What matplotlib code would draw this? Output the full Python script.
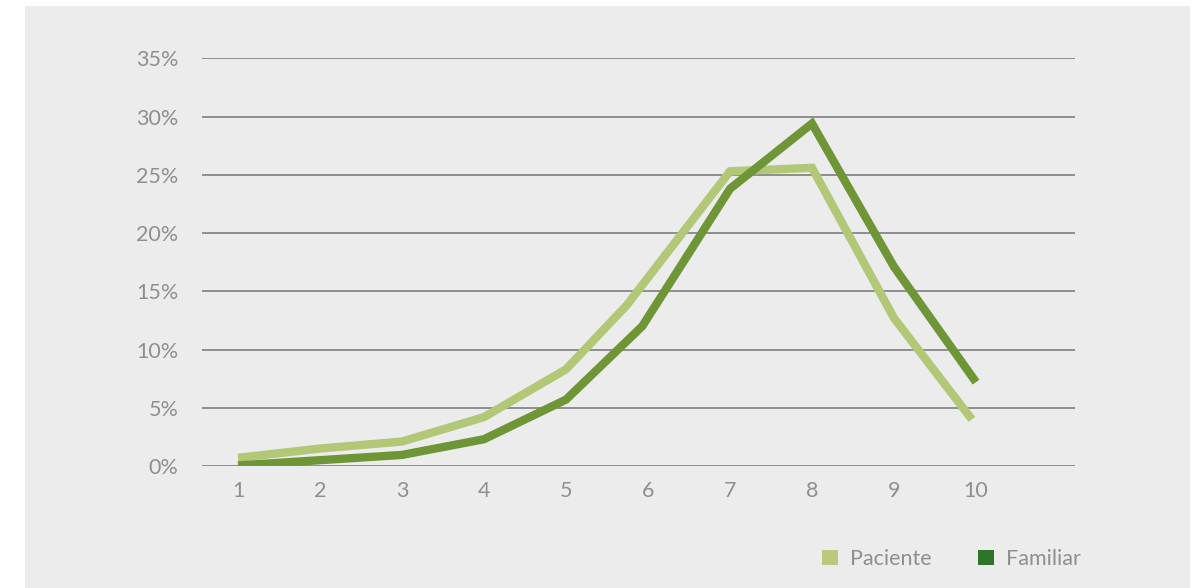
import matplotlib
matplotlib.use("Agg")
import matplotlib.pyplot as plt
from matplotlib.patches import Rectangle, Patch

# ---- data ----
categories = [1, 2, 3, 4, 5, 6, 7, 8, 9, 10]
paciente_x = [1, 2, 3, 4, 5, 5.74, 7, 8, 9, 9.72, 9.95]
paciente_y = [0.7, 1.5, 2.1, 4.2, 8.3, 13.8, 25.3, 25.6, 12.7, 6.1, 4.0]
familiar_x = [1, 2, 3, 4, 5, 5.93, 7, 8, 9, 10]
familiar_y = [0.05, 0.5, 0.95, 2.3, 5.7, 12.0, 23.8, 29.4, 17.1, 7.2]
yticks = [0, 5, 10, 15, 20, 25, 30, 35]
ytick_labels = ["0%", "5%", "10%", "15%", "20%", "25%", "30%", "35%"]
series_names = ["Paciente", "Familiar"]

# ---- style ----
c_pac = "#b2c876"
c_fam = "#6f9636"
c_fam_legend = "#2e7527"
c_pac_legend = "#bcc97c"
bg = "#ececec"
grid_c = "#8e8e8e"
txt_c = "#8f8f8f"
FONT = "Lato"
FS = 15.5

W, H = 1201, 588
fig = plt.figure(figsize=(W / 100, H / 100), dpi=100)
fig.patch.set_facecolor("white")
fig.patches.append(Rectangle((25 / W, 0), (1190 - 25) / W, (H - 6) / H,
                             transform=fig.transFigure, facecolor=bg,
                             edgecolor="none", zorder=-10))

ax = fig.add_axes([202 / W, (H - 466) / H, (1075 - 202) / W, (466 - 58.3) / H])
ax.set_zorder(2)
ax.set_facecolor("none")

ax.plot(paciente_x, paciente_y, color=c_pac, lw=6.0, solid_joinstyle="miter",
        solid_capstyle="butt", zorder=3)
ax.plot(familiar_x, familiar_y, color=c_fam, lw=6.0, solid_joinstyle="miter",
        solid_capstyle="butt", zorder=4)

ax.set_xlim(1 - 36 / 82, 10 + 99 / 82)
ax.set_ylim(0, 35)
ax.set_yticks(yticks)
ax.set_yticklabels(ytick_labels)
ax.set_xticks(categories)
ax.set_xticklabels([str(c) for c in categories])
for s in ax.spines.values():
    s.set_visible(False)
ax.set_axisbelow(True)
ax.grid(axis="y", color=grid_c, lw=1.4, zorder=1)
ax.grid(axis="x", visible=False)
ax.tick_params(axis="both", length=0, labelsize=FS, labelcolor=txt_c)
ax.tick_params(axis="y", pad=17)
ax.tick_params(axis="x", pad=11)
for lab in ax.get_xticklabels() + ax.get_yticklabels():
    lab.set_fontfamily(FONT)
    lab.set_fontweight("normal")

handles = [Patch(facecolor=c_pac_legend, edgecolor="none"),
           Patch(facecolor=c_fam_legend, edgecolor="none")]
leg = fig.legend(handles, series_names, loc="center left",
                 bbox_to_anchor=(822 / W, (H - 559) / H),
                 ncol=2, frameon=False, handlelength=0.75, handleheight=0.75,
                 handletextpad=0.55, columnspacing=2.15, borderpad=0,
                 borderaxespad=0,
                 prop={"family": FONT, "weight": "normal", "size": FS})
for t in leg.get_texts():
    t.set_color(txt_c)

fig.savefig("out.png", dpi=100)
